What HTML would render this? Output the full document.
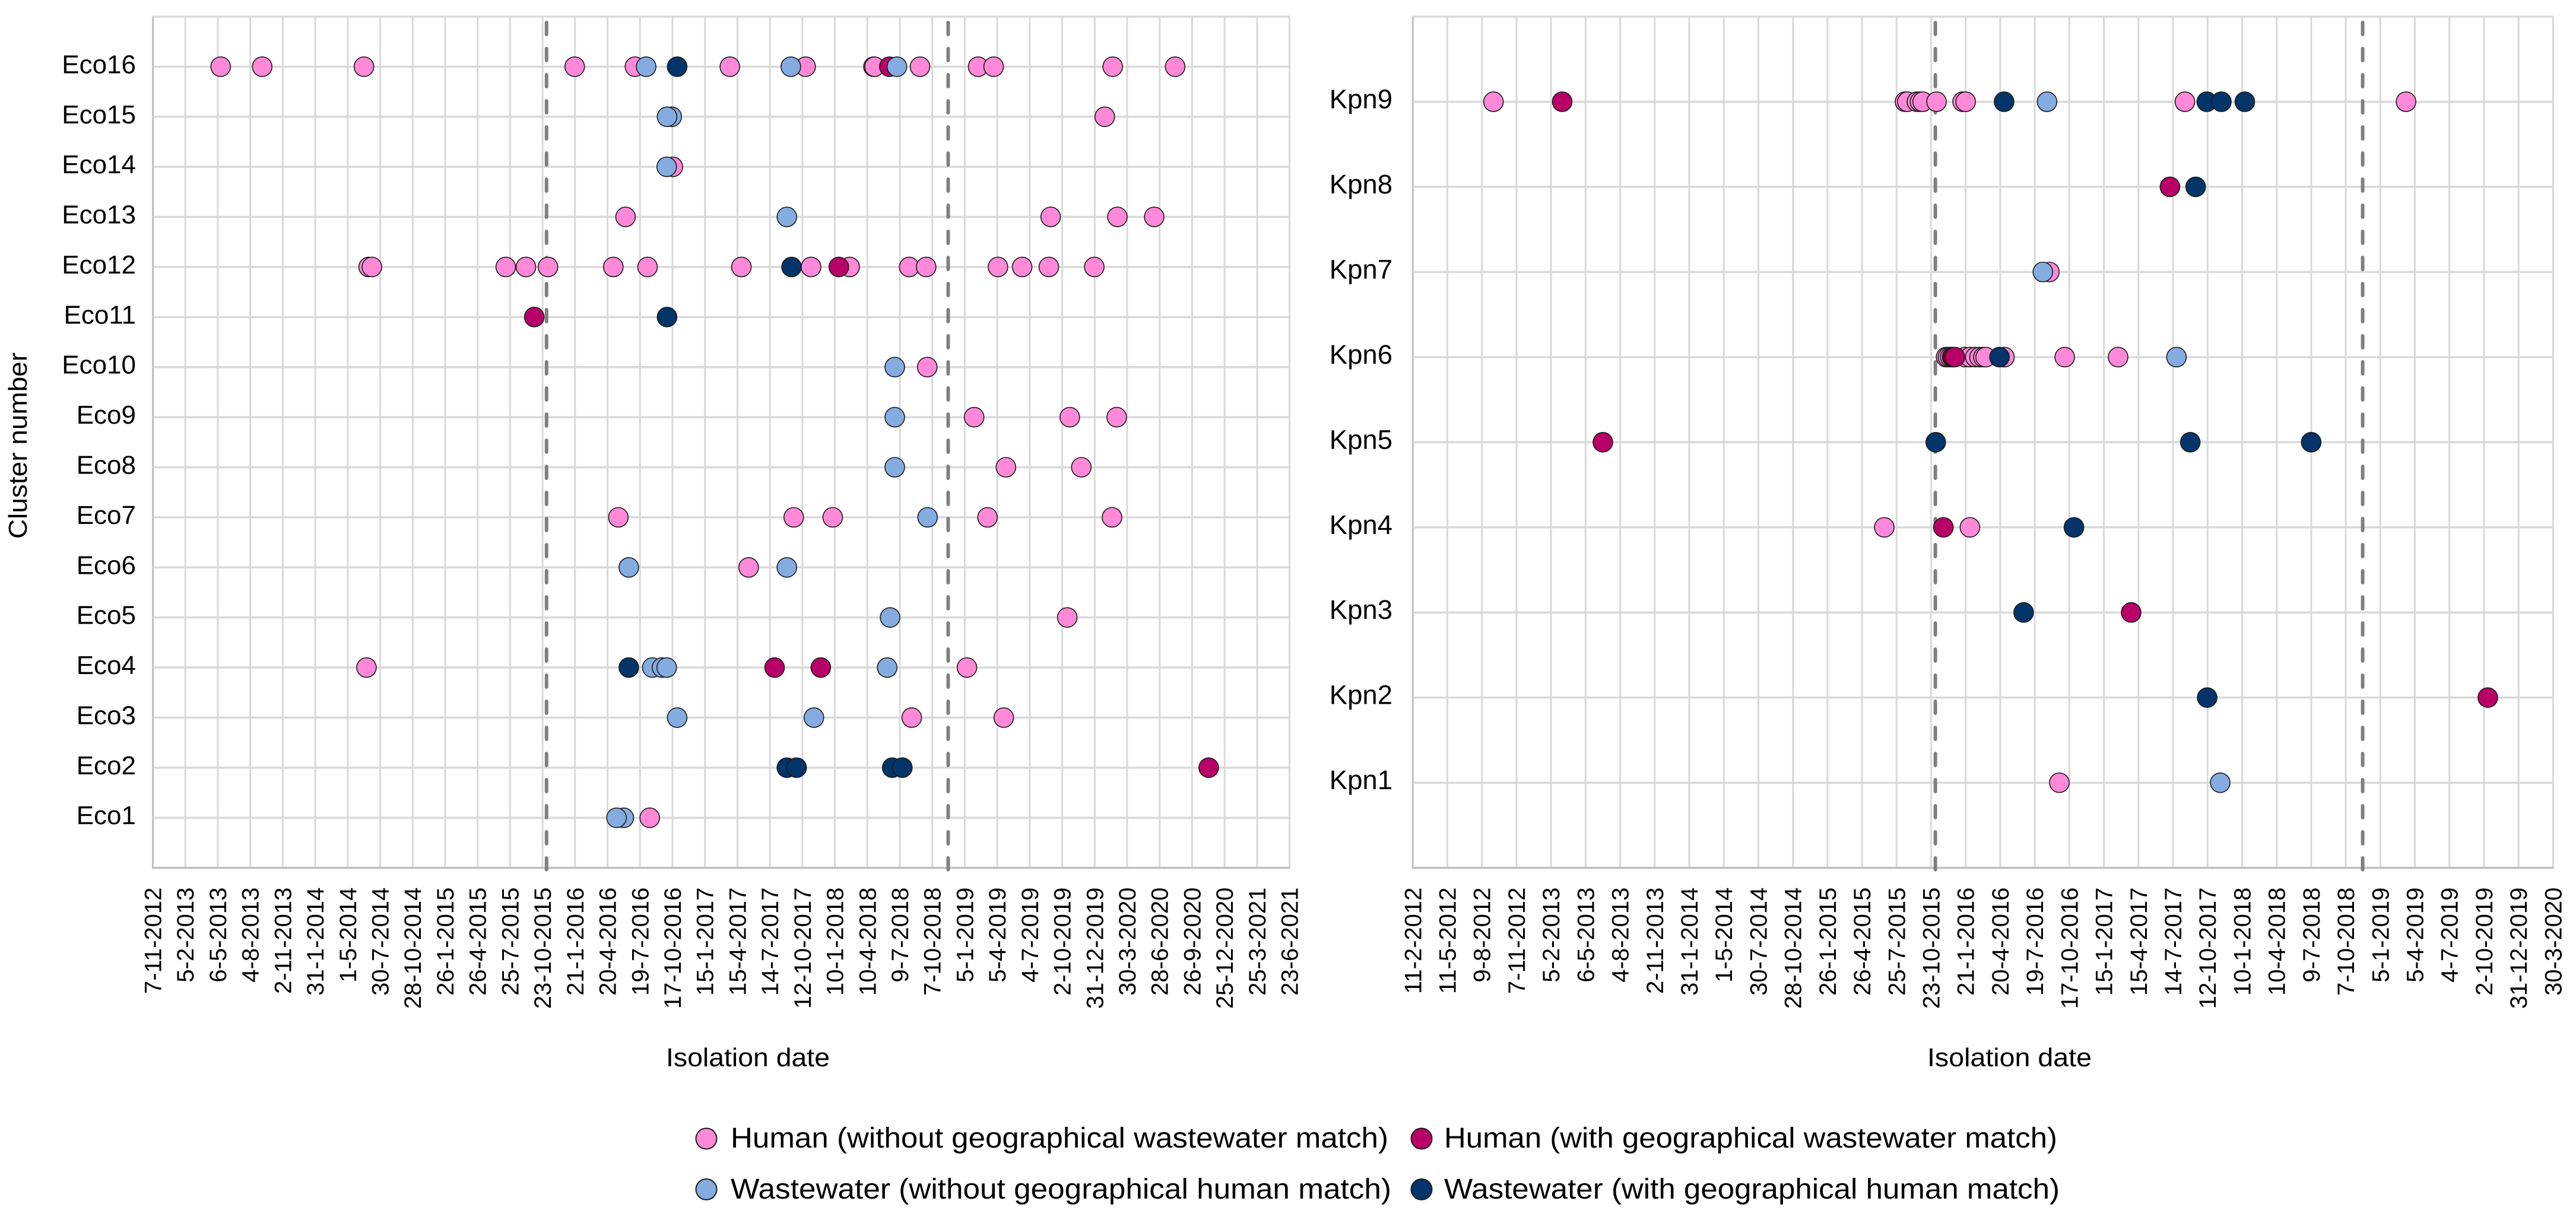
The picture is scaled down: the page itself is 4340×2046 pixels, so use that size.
<!DOCTYPE html>
<html lang="en">
<head>
<meta charset="utf-8">
<title>Cluster isolation dates</title>
<style>
html,body{margin:0;padding:0;background:#fff;}
svg{display:block;font-family:"Liberation Sans",sans-serif;}
</style>
</head>
<body>
<svg id="figure" xmlns="http://www.w3.org/2000/svg" width="4340" height="2046" viewBox="0 0 4340 2046">
<rect x="0" y="0" width="4340" height="2046" fill="#ffffff"/>
<g id="eco-chart"></g>
<g id="kpn-chart"></g>
<text transform="translate(45 908) rotate(-90)" font-size="44" textLength="314" lengthAdjust="spacingAndGlyphs" fill="#000">Cluster number</text>
<text x="1122" y="1797" font-size="44" textLength="276" lengthAdjust="spacingAndGlyphs" fill="#000">Isolation date</text>
<text x="3247" y="1797" font-size="44" textLength="277" lengthAdjust="spacingAndGlyphs" fill="#000">Isolation date</text>
<g>
<g>
<circle cx="1190" cy="1919" r="17.5" fill="#ff89d8" stroke="#1a1a1a" stroke-width="2"/>
<text x="1231" y="1934" font-size="48" textLength="1108" lengthAdjust="spacingAndGlyphs" fill="#000">Human (without geographical wastewater match)</text>
</g>
<g>
<circle cx="2395" cy="1919" r="17.5" fill="#b80068" stroke="#1a1a1a" stroke-width="2"/>
<text x="2433" y="1934" font-size="48" textLength="1033" lengthAdjust="spacingAndGlyphs" fill="#000">Human (with geographical wastewater match)</text>
</g>
<g>
<circle cx="1190" cy="2004.5" r="17.5" fill="#84ace0" stroke="#1a1a1a" stroke-width="2"/>
<text x="1231" y="2020" font-size="48" textLength="1113" lengthAdjust="spacingAndGlyphs" fill="#000">Wastewater (without geographical human match)</text>
</g>
<g>
<circle cx="2395" cy="2004.5" r="17.5" fill="#03356a" stroke="#1a1a1a" stroke-width="2"/>
<text x="2433" y="2020" font-size="48" textLength="1037" lengthAdjust="spacingAndGlyphs" fill="#000">Wastewater (with geographical human match)</text>
</g>
</g>
</svg>
<script>
// Dates are spreadsheet day serials; each point is [cluster number, date serial].
const ecoClusters = ["Eco1","Eco2","Eco3","Eco4","Eco5","Eco6","Eco7","Eco8","Eco9","Eco10","Eco11","Eco12","Eco13","Eco14","Eco15","Eco16"];
const ecoTickLabels = ["7-11-2012","5-2-2013","6-5-2013","4-8-2013","2-11-2013","31-1-2014","1-5-2014","30-7-2014","28-10-2014","26-1-2015","26-4-2015","25-7-2015","23-10-2015","21-1-2016","20-4-2016","19-7-2016","17-10-2016","15-1-2017","15-4-2017","14-7-2017","12-10-2017","10-1-2018","10-4-2018","9-7-2018","7-10-2018","5-1-2019","5-4-2019","4-7-2019","2-10-2019","31-12-2019","30-3-2020","28-6-2020","26-9-2020","25-12-2020","25-3-2021","23-6-2021"];
const ecoPeriodDates = [42311,43424];
const ecoHumanNoMatch = [
[16,41408],[16,41523],[16,41805],[16,42389],[16,42556],[16,42819],[16,43029],[16,43217],[16,43220],[16,43346],[16,43507],[16,43550],[16,43880],[16,44053],
[15,43858],[14,42661],
[13,42530],[13,43708],[13,43893],[13,43995],
[12,41818],[12,41827],[12,42198],[12,42254],[12,42315],[12,42496],[12,42591],[12,42851],[12,43044],[12,43151],[12,43316],[12,43363],[12,43562],[12,43629],[12,43703],[12,43829],
[10,43366],[9,43496],[9,43761],[9,43891],[8,43584],[8,43793],
[7,42510],[7,42996],[7,43104],[7,43533],[7,43878],
[6,42871],[5,43754],[4,41812],[4,43476],[3,43323],[3,43578],[1,42597]
];
const ecoHumanMatch = [[16,43261],[12,43121],[11,42277],[4,42943],[4,43071],[2,44146]];
const ecoWasteNoMatch = [
[16,42587],[16,42988],[16,43282],[15,42658],[15,42645],[14,42644],[13,42977],
[10,43276],[9,43276],[8,43276],[7,43367],[6,42539],[6,42977],[5,43263],
[4,42604],[4,42631],[4,42644],[4,43255],[3,42673],[3,43052],[1,42525],[1,42505]
];
const ecoWasteMatch = [[16,42673],[12,42990],[11,42645],[4,42539],[2,42977],[2,43004],[2,43269],[2,43297]];

const kpnClusters = ["Kpn1","Kpn2","Kpn3","Kpn4","Kpn5","Kpn6","Kpn7","Kpn8","Kpn9"];
const kpnTickLabels = ["11-2-2012","11-5-2012","9-8-2012","7-11-2012","5-2-2013","6-5-2013","4-8-2013","2-11-2013","31-1-2014","1-5-2014","30-7-2014","28-10-2014","26-1-2015","26-4-2015","25-7-2015","23-10-2015","21-1-2016","20-4-2016","19-7-2016","17-10-2016","15-1-2017","15-4-2017","14-7-2017","12-10-2017","10-1-2018","10-4-2018","9-7-2018","7-10-2018","5-1-2019","5-4-2019","4-7-2019","2-10-2019","31-12-2019","30-3-2020"];
const kpnPeriodDates = [42311,43424];
const kpnHumanNoMatch = [
[9,41160],[9,42232],[9,42238],[9,42263],[9,42271],[9,42278],[9,42314],[9,42382],[9,42390],[9,42961],[9,43537],
[7,42608],
[6,42339],[6,42344],[6,42350],[6,42355],[6,42388],[6,42401],[6,42415],[6,42426],[6,42436],[6,42442],[6,42491],[6,42648],[6,42787],
[4,42178],[4,42401],[1,42634]
];
const kpnHumanMatch = [[9,41339],[8,42922],[6,42355],[6,42358],[6,42362],[5,41445],[4,42332],[3,42821],[2,43750]];
const kpnWasteNoMatch = [[9,42602],[7,42591],[6,42939],[1,43053]];
const kpnWasteMatch = [[9,42490],[9,43018],[9,43056],[9,43117],[8,42989],[6,42478],[5,42312],[5,42975],[5,43290],[4,42672],[3,42541],[2,43019]];

const SVG_NS = "http://www.w3.org/2000/svg";

function addLine(parent, x1, y1, x2, y2, color, width, name) {
  const el = document.createElementNS(SVG_NS, "line");
  el.setAttribute("x1", x1);
  el.setAttribute("y1", y1);
  el.setAttribute("x2", x2);
  el.setAttribute("y2", y2);
  el.setAttribute("stroke", color);
  el.setAttribute("stroke-width", width);
  
  
  parent.appendChild(el);
  return el;
}

function addLabel(parent, x, y, text, size, anchor, name) {
  const el = document.createElementNS(SVG_NS, "text");
  el.setAttribute("x", x);
  el.setAttribute("y", y);
  el.setAttribute("font-size", size);
  el.setAttribute("text-anchor", anchor);
  el.setAttribute("fill", "#000");
  el.textContent = text;
  
  
  parent.appendChild(el);
  return el;
}

function drawSeries(parent, points, fill, seriesName, xScale, yScale) {
  points.forEach(function (p) {
    const dot = document.createElementNS(SVG_NS, "circle");
    dot.setAttribute("cx", xScale(p[1]));
    dot.setAttribute("cy", yScale(p[0]));
    dot.setAttribute("r", 16.5);
    dot.setAttribute("fill", fill);
    dot.setAttribute("stroke", "#1a1a1a");
    dot.setAttribute("stroke-width", 1.6);
    
    
    parent.appendChild(dot);
  });
}

function drawChart(rootId, prefix, frame, xMin, clusters, tickLabels, periodDates, series) {
  const root = document.getElementById(rootId);
  const xStep = 90;
  const xMax = xMin + xStep * (tickLabels.length - 1);
  const yMax = clusters.length + 1;
  const xScale = function (v) { return frame.left + (v - xMin) / (xMax - xMin) * (frame.right - frame.left); };
  const yScale = function (v) { return frame.bottom - v / yMax * (frame.bottom - frame.top); };

  tickLabels.forEach(function (label, i) {
    const x = xScale(xMin + i * xStep);
    addLine(root, x, frame.top, x, frame.bottom, i === 0 ? "#bfbfbf" : "#d9d9d9", 3, prefix + '-vertical-gridline');
    const tick = addLabel(root, x + 14, frame.bottom + 33, label, 40, "end", prefix + '-x-tick-label');
    tick.setAttribute("transform", "rotate(-90 " + (x + 14) + " " + (frame.bottom + 33) + ")");
  });
  for (let r = 1; r <= yMax; r++) {
    addLine(root, frame.left, yScale(r), frame.right, yScale(r), "#d9d9d9", 3.5, prefix + '-horizontal-gridline');
  }
  addLine(root, frame.left - 1.5, frame.bottom, frame.right + 1.5, frame.bottom, "#bfbfbf", 3.5, prefix + '-x-axis-line');
  clusters.forEach(function (name, i) {
    addLabel(root, frame.labelRight, yScale(i + 1) + 11, name, frame.labelSize, "end", prefix + '-y-tick-label');
  });
  periodDates.forEach(function (d) {
    const x = xScale(d);
    const dash = addLine(root, x, frame.top + 10, x, frame.bottom + 3, "#7f7f7f", 6, prefix + '-period-divider');
    dash.setAttribute("stroke-dasharray", "20 24");
    dash.setAttribute("stroke-linecap", "round");
  });
  drawSeries(root, series.humanNoMatch, "#ff89d8", prefix + '-human-no-match', xScale, yScale);
  drawSeries(root, series.humanMatch, "#b80068", prefix + '-human-match', xScale, yScale);
  drawSeries(root, series.wasteNoMatch, "#84ace0", prefix + '-wastewater-no-match', xScale, yScale);
  drawSeries(root, series.wasteMatch, "#03356a", prefix + '-wastewater-match', xScale, yScale);
}

drawChart("eco-chart", "eco", {left: 257.5, right: 2172.6, top: 28, bottom: 1462.6, labelRight: 229, labelSize: 44}, 41220,
  ecoClusters, ecoTickLabels, ecoPeriodDates,
  {humanNoMatch: ecoHumanNoMatch, humanMatch: ecoHumanMatch, wasteNoMatch: ecoWasteNoMatch, wasteMatch: ecoWasteMatch});
drawChart("kpn-chart", "kpn", {left: 2380.3, right: 4301.4, top: 28, bottom: 1462.6, labelRight: 2346, labelSize: 45.5}, 40950,
  kpnClusters, kpnTickLabels, kpnPeriodDates,
  {humanNoMatch: kpnHumanNoMatch, humanMatch: kpnHumanMatch, wasteNoMatch: kpnWasteNoMatch, wasteMatch: kpnWasteMatch});
</script>
</body>
</html>
